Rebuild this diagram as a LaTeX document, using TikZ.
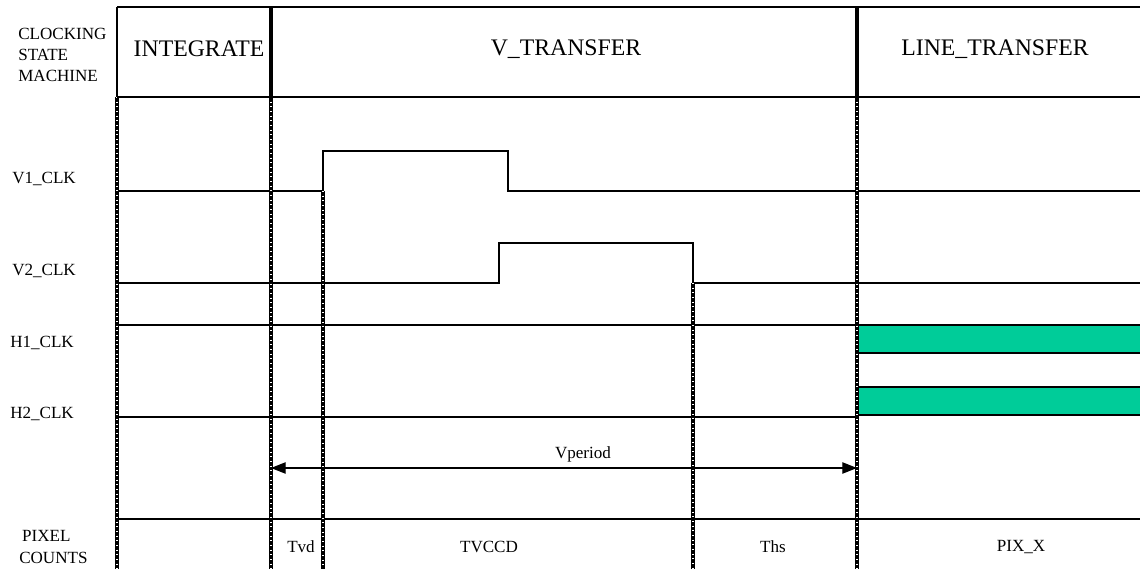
\documentclass[tikz,border=0pt]{standalone}
\usepackage{fontspec}
\setmainfont{Liberation Serif}
\usetikzlibrary{arrows.meta}
\definecolor{hclkfill}{RGB}{0,204,153}

\begin{document}
\begin{tikzpicture}[x=0.75pt,y=-0.75pt,
  >={Triangle[length=11pt,width=8.5pt]},
  sig/.style={line width=0.9pt},
  bar/.style={line width=1.9pt},
  tick/.style={line width=2.4pt,postaction={draw=white,line width=0.9pt,dash pattern=on 0.7pt off 2.8pt}},
  lbl/.style={inner sep=0pt,font=\fontsize{12.8}{15.9}\selectfont},
  hdr/.style={inner sep=0pt,font=\fontsize{17.8}{21}\selectfont}]
\useasboundingbox (0,0) rectangle (1140,569);
\fill[hclkfill] (857,325) rectangle (1140,353);
\fill[hclkfill] (857,387) rectangle (1140,415);
\draw[sig] (117,191) -- (323,191) -- (323,151) -- (508,151) -- (508,191) -- (1140,191);
\draw[sig] (117,283) -- (499,283) -- (499,243) -- (693,243) -- (693,283) -- (1140,283);
\draw[sig] (117,325) -- (1140,325);
\draw[sig] (857,353) -- (1140,353);
\draw[sig] (857,387) -- (1140,387);
\draw[sig] (857,415) -- (1140,415);
\draw[sig] (117,417) -- (857,417);
\draw[sig] (117,519) -- (1140,519);
\draw[tick] (117,97) -- (117,569);
\draw[tick] (271,97) -- (271,569);
\draw[tick] (323,191) -- (323,569);
\draw[tick] (693,283) -- (693,569);
\draw[tick] (857,97) -- (857,569);
\draw[bar] (117,7) -- (1140,7);
\draw[bar] (117,97) -- (1140,97);
\draw[bar] (117,7) -- (117,97);
\draw[bar,line width=2.6pt] (271,7) -- (271,97);
\draw[bar,line width=2.6pt] (857,7) -- (857,97);
\node[hdr] (integ) at (199,49) {INTEGRATE};
\node[hdr] (vxfer) at (566,49) {V\_TRANSFER};
\node[hdr] (lxfer) at (995,49) {LINE\_TRANSFER};
\node[lbl,anchor=west,align=left] (csm) at (18,55) {CLOCKING\\STATE\\MACHINE};
\node[lbl,anchor=west] (v1) at (12,179) {V1\_CLK};
\node[lbl,anchor=west] (v2) at (12,271) {V2\_CLK};
\node[lbl,anchor=west] (h1) at (10,343) {H1\_CLK};
\node[lbl,anchor=west] (h2) at (10,414) {H2\_CLK};
\node[lbl,anchor=west,align=left] (pix) at (19,547) {\,PIXEL\\COUNTS};
\coordinate (vstart) at (271,468);
\coordinate (vend) at (857,468);
\draw[sig,<->] (vstart) -- (vend);
\node[lbl] (vper) at (583,454) {Vperiod};
\node[lbl] (tvd) at (301,547) {Tvd};
\node[lbl] (tvccd) at (489,547) {TVCCD};
\node[lbl] (ths) at (773,547) {Ths};
\node[lbl] (pixx) at (1021,547) {PIX\_X};
\end{tikzpicture}
\end{document}
